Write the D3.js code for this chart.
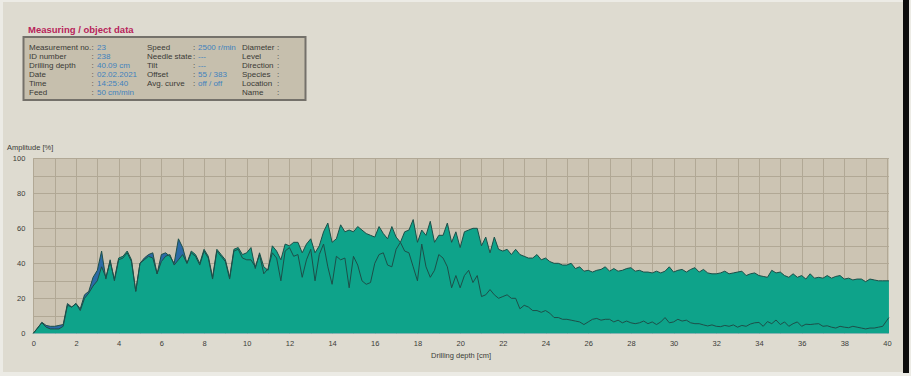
<!DOCTYPE html>
<html>
<head>
<meta charset="utf-8">
<script src="https://cdn.jsdelivr.net/npm/d3@7"></script>
<style>
  html, body { margin: 0; padding: 0; background: #ecebe5; }
  svg { display: block; font-family: "Liberation Sans", Arial, sans-serif; }
</style>
</head>
<body>
<svg id="chart" width="911" height="376"></svg>
<script>
// Drilling resistance profile: two amplitude curves over drilling depth.
// Samples are taken every 0.2 cm; the last sample is at the final depth.
const finalDepth = 40.09;
const depthCm = [...d3.range(201).map(i => i / 5), finalDepth];

// Upper curve (teal area)
const amplitudeMain = [
  0, 3, 6, 3.5, 2.5, 2.5, 2.5, 4, 16, 15,
  17, 13, 20, 23, 27, 30, 38, 32, 41, 31,
  43, 44, 47, 42, 24, 40, 42, 44, 43, 34,
  41, 44, 45, 39, 42, 45, 40, 47, 45, 40,
  48, 44, 32, 48, 45, 42, 32, 48, 49, 45,
  46, 49, 37, 46, 38, 36, 50, 47, 42, 51,
  50, 52, 52, 46, 51, 54, 46, 50, 58, 63,
  52, 54, 62, 58, 59, 58, 61, 59, 57, 56,
  55, 61, 57, 54, 61, 55, 52, 58, 59, 65,
  52, 59, 56, 64, 52, 56, 56, 63, 52, 58,
  49, 58, 59, 60, 60, 50, 55, 46, 55, 48,
  47, 48, 45, 48, 45, 44, 43, 43, 45, 42,
  43, 41, 40, 40, 39, 39, 40, 37, 38, 35.5,
  36, 35, 36, 36.5, 38, 35.5, 37, 35.5, 36, 37,
  37.5, 35.5, 36, 35, 35, 34.5, 35.5, 34.5, 35.5, 38,
  35, 36, 36.5, 35, 36.5, 37.5, 35, 36.5, 34.5, 34,
  34, 34.5, 35.5, 34, 34.5, 35, 35.5, 33, 34, 34.5,
  33, 32.5, 32, 36, 34.5, 35, 33, 32, 34, 32,
  33, 31, 34, 31.5, 32, 31.5, 33, 31.5, 32.5, 33,
  31, 31.5, 30.5, 31, 31, 29.5, 31, 30.5, 30, 30,
  30, 30
];

// Second curve (blue area / inner line)
const amplitudeSecond = [
  0, 3, 6.3, 4.5, 4, 4, 4.5, 5, 17, 15,
  17, 14, 22, 24, 32, 36, 47, 31, 42, 30,
  42, 43, 46, 41, 24, 40, 43, 45, 46, 34,
  45, 46, 44, 40, 54, 49, 40, 46, 44, 39,
  47, 43, 31, 47, 44, 41, 31, 47, 48, 43,
  42, 42, 38, 45, 34, 37, 46, 43, 30, 47,
  49, 44, 45, 32, 42, 48, 30, 45, 51, 38,
  28, 44, 42, 43, 26, 44, 39, 30, 28, 29,
  40, 45, 46, 39, 38, 48, 52, 47, 46, 38,
  30, 51, 38, 32, 36, 45, 43, 38, 26, 33,
  26, 33, 36, 29, 33, 21, 22, 25, 22, 20,
  21, 22, 20, 20, 14, 16, 15, 13, 13, 12,
  13, 11.5, 9, 9, 8, 8, 7.5, 7, 6.5, 5,
  6.5, 8, 8.5, 7.5, 8, 8, 6.5, 7.5, 6, 7,
  6, 5.5, 6, 7, 5.5, 6.5, 5, 6.5, 9, 6,
  6.5, 8, 7, 7.5, 6, 5.5, 5.5, 4.8, 4.2, 4.8,
  4, 3.8, 4.5, 4, 4.8, 3.5, 4.5, 4, 5.3, 6,
  6.2, 4, 6.7, 5.5, 7.6, 5, 6.5, 4, 5.5, 6.5,
  4, 5.2, 5, 5.3, 5.5, 4, 4.3, 3.5, 3, 4,
  3.5, 3.2, 4, 3.5, 3, 2.5, 3, 3, 3.5, 4,
  7.5, 9
];

const xTicks = d3.range(0, 41, 2);
const yTicks = [0, 20, 40, 60, 80, 100];

// Header panel contents: [label, value] per row, three columns
const infoCol1 = [
  ["Measurement no.", "23"],
  ["ID number", "238"],
  ["Drilling depth", "40.09 cm"],
  ["Date", "02.02.2021"],
  ["Time", "14:25:40"],
  ["Feed", "50 cm/min"]
];
const infoCol2 = [
  ["Speed", "2500 r/min"],
  ["Needle state", "---"],
  ["Tilt", "---"],
  ["Offset", "55 / 383"],
  ["Avg. curve", "off / off"]
];
const infoCol3 = ["Diameter", "Level", "Direction", "Species", "Location", "Name"];

const svg = d3.select("#chart");

// Window frame
svg.append("rect").attr("x", 3).attr("y", 2).attr("width", 900).attr("height", 370)
  .attr("fill", "#dedbd0");
svg.append("rect").attr("x", 903).attr("y", 0).attr("width", 6).attr("height", 373)
  .attr("fill", "#0d0d0d");

// Header panel
svg.append("text").attr("x", 28).attr("y", 33)
  .attr("font-size", 9.5).attr("font-weight", "bold").attr("fill", "#b8245a")
  .text("Measuring / object data");
svg.append("rect").attr("x", 23.5).attr("y", 37).attr("width", 282).attr("height", 63)
  .attr("fill", "#c6bfad").attr("stroke", "#74716a").attr("stroke-width", 2);

const rowY = i => 49.5 + i * 9;
const labelColor = "#3a3a36", valueColor = "#3f82bd";
const info = svg.append("g").attr("font-size", 8);

infoCol1.forEach(([lab, val], i) => {
  info.append("text").attr("x", 29).attr("y", rowY(i)).attr("fill", labelColor).text(lab);
  info.append("text").attr("x", 91.5).attr("y", rowY(i)).attr("fill", labelColor).text(":");
  info.append("text").attr("x", 97).attr("y", rowY(i)).attr("fill", valueColor).text(val);
});
infoCol2.forEach(([lab, val], i) => {
  info.append("text").attr("x", 147).attr("y", rowY(i)).attr("fill", labelColor).text(lab);
  info.append("text").attr("x", 193).attr("y", rowY(i)).attr("fill", labelColor).text(":");
  info.append("text").attr("x", 198).attr("y", rowY(i)).attr("fill", valueColor).text(val);
});
infoCol3.forEach((lab, i) => {
  info.append("text").attr("x", 242).attr("y", rowY(i)).attr("fill", labelColor).text(lab);
  info.append("text").attr("x", 277).attr("y", rowY(i)).attr("fill", labelColor).text(":");
});

// Plot
const x = d3.scaleLinear().domain([0, 40]).range([33.3, 887]);
const y = d3.scaleLinear().domain([0, 100]).range([333.3, 158.3]);

svg.append("rect")
  .attr("x", x(0)).attr("y", y(100))
  .attr("width", x(finalDepth) - x(0)).attr("height", y(0) - y(100))
  .attr("fill", "#ccc4b3");

const grid = svg.append("g").attr("stroke", "#b1a895").attr("stroke-width", 1);
grid.selectAll("line.v").data(d3.range(0, 41)).join("line")
  .attr("class", "v")
  .attr("x1", d => Math.round(x(d)) + 0.5).attr("x2", d => Math.round(x(d)) + 0.5)
  .attr("y1", y(100)).attr("y2", y(0));
grid.selectAll("line.h").data(d3.range(10, 101, 10)).join("line")
  .attr("class", "h")
  .attr("x1", x(0)).attr("x2", x(finalDepth))
  .attr("y1", d => Math.round(y(d)) + 0.5).attr("y2", d => Math.round(y(d)) + 0.5);

const pts = (vals) => vals.map((v, i) => [depthCm[i], v]);
const area = d3.area().x(d => x(d[0])).y0(y(0)).y1(d => y(d[1]));
const line = d3.line().x(d => x(d[0])).y(d => y(d[1]));

svg.append("path").datum(pts(amplitudeSecond)).attr("d", area).attr("fill", "#2b6aa6");
svg.append("path").datum(pts(amplitudeMain)).attr("d", area).attr("fill", "#0ea38a");
svg.append("path").datum(pts(amplitudeSecond)).attr("d", line)
  .attr("fill", "none").attr("stroke", "#1d4f49").attr("stroke-width", 1);
svg.append("path").datum(pts(amplitudeMain)).attr("d", line)
  .attr("fill", "none").attr("stroke", "#1d4f49").attr("stroke-width", 1);

// Axes (labels only)
const xAxis = svg.append("g").attr("transform", `translate(0,${y(0) + 4})`)
  .call(d3.axisBottom(x).tickValues(xTicks).tickSize(0).tickFormat(d3.format("d")));
const yAxis = svg.append("g").attr("transform", `translate(${x(0) - 5},0)`)
  .call(d3.axisLeft(y).tickValues(yTicks).tickSize(0).tickFormat(d3.format("d")));
[xAxis, yAxis].forEach(g => {
  g.select(".domain").remove();
  g.selectAll("text").attr("font-size", 7.5).attr("fill", "#3c3c38")
    .attr("font-family", "\"Liberation Sans\", Arial, sans-serif");
});

svg.append("text").attr("x", 7).attr("y", 150)
  .attr("font-size", 7.5).attr("fill", "#3c3c38").text("Amplitude [%]");
svg.append("text").attr("x", 461).attr("y", 358).attr("text-anchor", "middle")
  .attr("font-size", 7.5).attr("fill", "#3c3c38").text("Drilling depth [cm]");
</script>
</body>
</html>
